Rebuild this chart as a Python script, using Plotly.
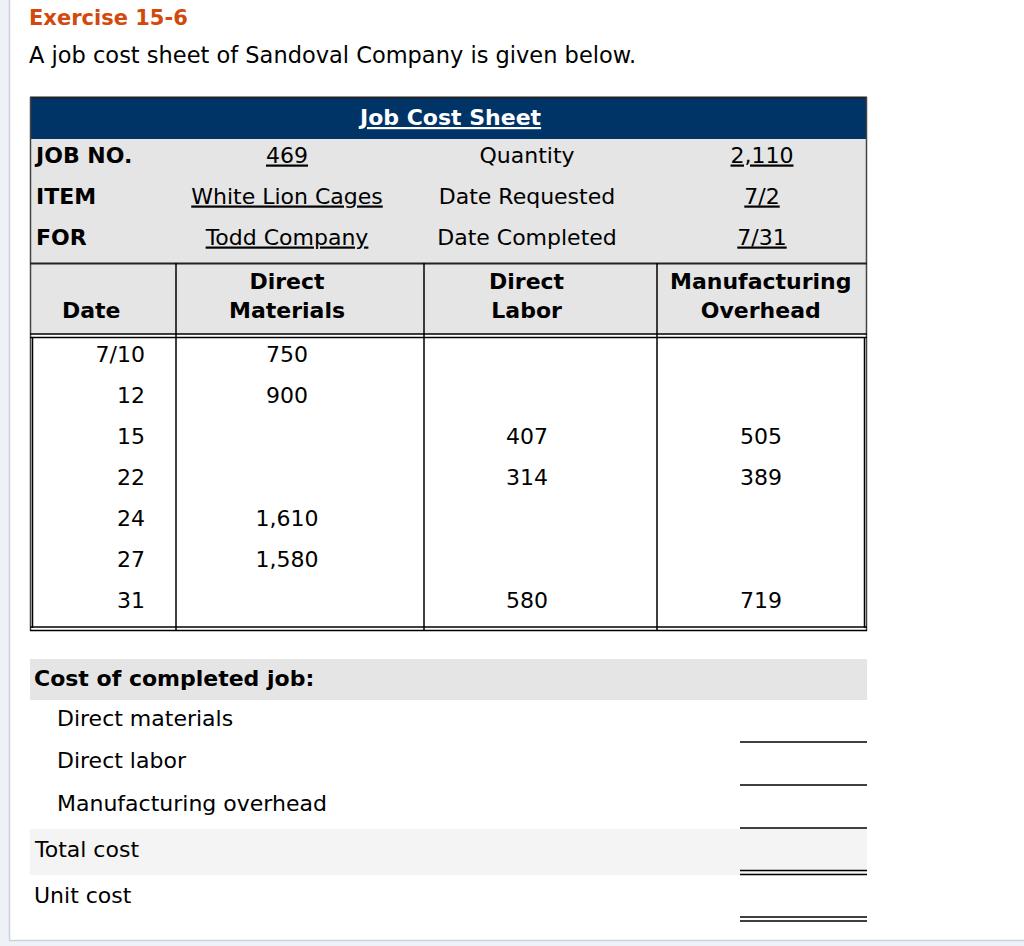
import plotly.graph_objects as go

# ---------------- data ----------------
exercise_title = "Exercise 15-6"
intro_text = "A job cost sheet of Sandoval Company is given below."
sheet_title = "Job Cost Sheet"

info_labels_left = ["JOB NO.", "ITEM", "FOR"]
info_values_left = ["469", "White Lion Cages", "Todd Company"]
info_labels_right = ["Quantity", "Date Requested", "Date Completed"]
info_values_right = ["2,110", "7/2", "7/31"]

column_headers = ["Date", "Direct<br>Materials", "Direct<br>Labor", "Manufacturing<br>Overhead"]
dates = ["7/10", "12", "15", "22", "24", "27", "31"]
direct_materials = [750, 900, None, None, 1610, 1580, None]
direct_labor = [None, None, 407, 314, None, None, 580]
manufacturing_overhead = [None, None, 505, 389, None, None, 719]

summary_heading = "Cost of completed job:"
summary_items = ["Direct materials", "Direct labor", "Manufacturing overhead"]
total_labels = ["Total cost", "Unit cost"]

# ---------------- layout constants ----------------
W, H = 1024, 946
FONT = "DejaVu Sans"
FS = 22
NAVY = "#003366"
GRAY = "#e5e5e5"
LIGHT = "#f4f4f4"
TL, TR = 30, 867           # table left/right
COLS = [30, 176, 424, 657, 867]
COL_CENTERS = [91, 287, 527, 761]
INFO_Y = [157, 198, 239]
ROW_Y0, ROW_STEP = 356, 41
PAD = 3                    # annotation inner padding compensation

fig = go.Figure()
shapes = []
annos = []


def rect(x0, y0, x1, y1, fill, line=None):
    shapes.append(dict(type="rect", x0=x0, y0=y0, x1=x1, y1=y1, fillcolor=fill,
                       line=dict(width=0) if line is None else line, layer="below"))


def hline(x0, x1, y, color="black", w=1.5):
    shapes.append(dict(type="line", x0=x0, x1=x1, y0=y, y1=y, line=dict(color=color, width=w)))


def vline(x, y0, y1, color="black", w=1.5):
    shapes.append(dict(type="line", x0=x, x1=x, y0=y0, y1=y1, line=dict(color=color, width=w)))


def text(x, y, t, size=FS, color="black", bold=False, xanchor="center"):
    if bold:
        t = "<b>" + t + "</b>"
    if xanchor == "left":
        x -= PAD
    annos.append(dict(x=x, y=y, text=t, showarrow=False, xanchor=xanchor, yanchor="middle",
                      font=dict(family=FONT, size=size, color=color)))


def text_trace(xs, ys, ts, pos="middle center"):
    fig.add_trace(go.Scatter(x=xs, y=ys, mode="text", text=ts, textposition=pos,
                             textfont=dict(family=FONT, size=FS, color="black"),
                             hoverinfo="skip", showlegend=False))


# page frame
rect(0, 0, 9, H, "#eef2f7")
rect(0, 941, W, H, "#eef2f7")
vline(9.5, 0, 941, "#c9d2de", 1.5)
hline(9, W, 940.5, "#c9d2de", 1.5)

# headings
text(30, 18, exercise_title, size=21, color="#d2490b", bold=True, xanchor="left")
text(30, 55, intro_text, size=22.5, xanchor="left")

# table backgrounds
rect(TL, 97, TR, 139, NAVY)
rect(TL, 139, TR, 263, GRAY)
rect(TL, 263, TR, 334, GRAY)

# table lines
hline(TL, TR, 97.5, "#222", 2)
vline(TL + 0.5, 97, 631, "#444", 1.5)
vline(TR - 0.5, 97, 631, "#444", 1.5)
vline(TL + 2.5, 337, 628, "black", 1.5)
vline(TR - 2.5, 337, 628, "black", 1.5)
hline(TL, TR, 263.5, "#222", 2)
hline(TL, TR, 334, "black", 1.5)
hline(TL, TR, 337.5, "black", 1.5)
hline(TL, TR, 627, "black", 1.5)
hline(TL, TR, 630.5, "black", 1.5)
for cx in COLS[1:-1]:
    vline(cx, 263, 631, "black", 1.5)

# title in header
text((TL + TR) / 2 + 1, 117, "<u>" + sheet_title + "</u>", size=FS, color="white", bold=True)

# info rows
text_trace([36] * 3, INFO_Y, ["<b>%s</b>" % s for s in info_labels_left], "middle right")
text_trace([COL_CENTERS[1]] * 3, INFO_Y, ["<u>%s</u>" % s for s in info_values_left])
text_trace([COL_CENTERS[2]] * 3, INFO_Y, info_labels_right)
text_trace([COL_CENTERS[3] + 1] * 3, INFO_Y, ["<u>%s</u>" % s for s in info_values_right])

# column headers
for cx, h in zip(COL_CENTERS, column_headers):
    text(cx, 296 if "<br>" in h else 310, h, bold=True)

# data rows
row_y = [ROW_Y0 + i * ROW_STEP for i in range(len(dates))]
text_trace([145] * len(dates), row_y, dates, "middle left")
for cx, series in zip(COL_CENTERS[1:], [direct_materials, direct_labor, manufacturing_overhead]):
    xs, ys, ts = [], [], []
    for y, v in zip(row_y, series):
        if v is not None:
            xs.append(cx)
            ys.append(y)
            ts.append(f"{v:,}")
    text_trace(xs, ys, ts)

# summary section
rect(TL, 659, TR, 700, GRAY)
rect(TL, 829, TR, 875, LIGHT)
text(35, 678, summary_heading, bold=True, xanchor="left")
for i, s in enumerate(summary_items):
    text(58, 718 + i * 42.5, s, xanchor="left")
text(35, 849, total_labels[0], xanchor="left")
text(35, 895, total_labels[1], xanchor="left")

AX0, AX1 = 740, 867
hline(AX0, AX1, 742, "black", 1.5)
hline(AX0, AX1, 785, "black", 1.5)
hline(AX0, AX1, 828, "black", 1.5)
hline(AX0, AX1, 870.5, "black", 1.5)
hline(AX0, AX1, 874.5, "black", 1.5)
hline(AX0, AX1, 917, "black", 1.5)
hline(AX0, AX1, 921, "black", 1.5)

fig.update_layout(
    width=W, height=H, margin=dict(l=0, r=0, t=0, b=0),
    paper_bgcolor="white", plot_bgcolor="white",
    xaxis=dict(range=[0, W], visible=False, fixedrange=True),
    yaxis=dict(range=[H, 0], visible=False, fixedrange=True),
    shapes=shapes, annotations=annos, showlegend=False,
)

fig.write_html("out.html", include_plotlyjs=True, config={"displayModeBar": False},
               post_script="document.body.style.margin='0';document.body.style.overflow='hidden';")
